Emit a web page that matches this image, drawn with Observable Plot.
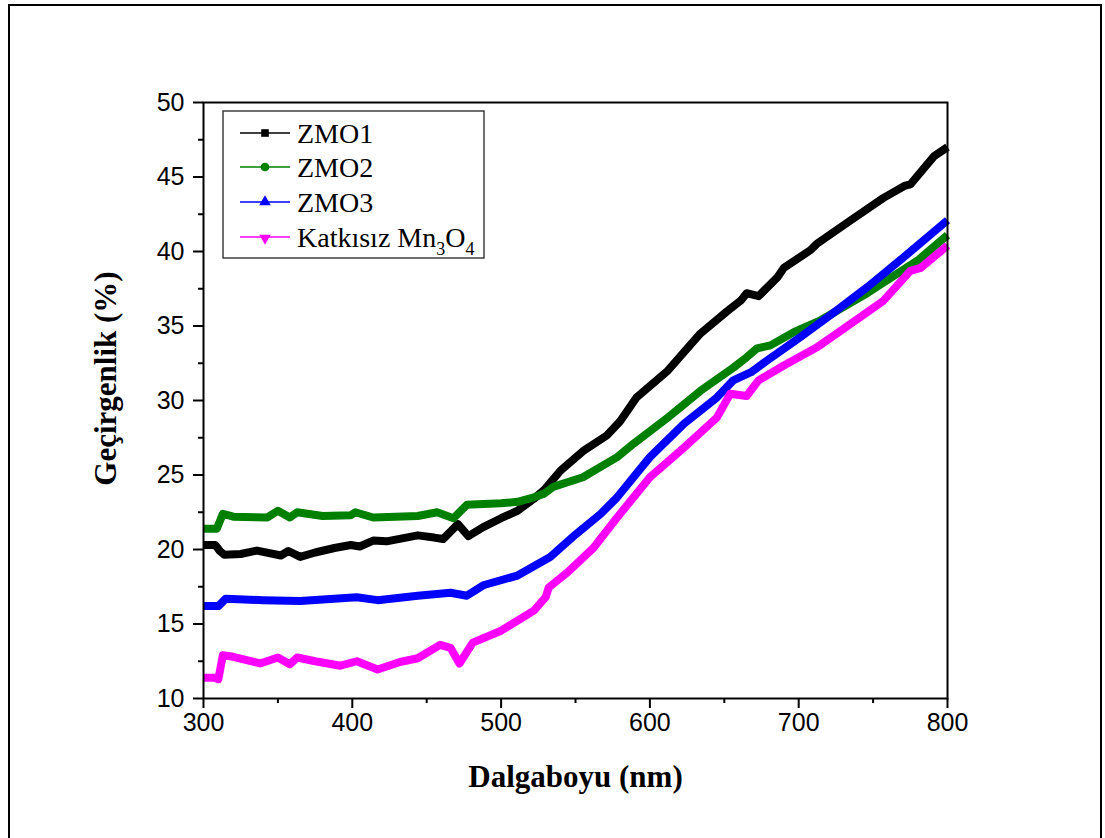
<!DOCTYPE html>
<html>
<head>
<meta charset="utf-8">
<script src="https://cdn.jsdelivr.net/npm/d3@7"></script>
<script src="https://cdn.jsdelivr.net/npm/@observablehq/plot@0.6"></script>
<style>
  html, body { margin: 0; padding: 0; background: #fff; overflow: hidden; }
  #wrap { position: relative; width: 1105px; height: 838px; }
  #border { position: absolute; left: 8px; top: 4px; width: 1094px; height: 900px; border: 2.5px solid #000; box-sizing: border-box; }
  #chart { position: absolute; left: 0; top: 0; }
  svg g.legend text { font-family: 'Liberation Serif', 'Times New Roman', serif !important; font-size: 28px !important; text-anchor: start !important; fill: #000; }
  svg g.legend tspan.sub { font-size: 18px !important; }
</style>
</head>
<body>
<div id="wrap"><div id="border"></div><div id="chart"></div></div>
<script>
// ---- data ----
const seriesNames = ["ZMO1", "ZMO2", "ZMO3", "Katkısız Mn3O4"];
const seriesColors = ["#000000", "#008000", "#0000ff", "#ff00ff"];

const wlZMO1 = [300,308,311,314,325,336,352,357,365,375,388,399,405,414,423,444,455,461,466,471,478,488,500,511,522,529,540,555,571,580,591,612,634,652,661,665,673,686,690,708,712,735,757,771,775,791,800];
const tZMO1  = [20.3,20.3,19.9,19.65,19.7,19.93,19.6,19.9,19.5,19.8,20.1,20.3,20.2,20.6,20.55,20.95,20.8,20.7,21.2,21.7,20.9,21.5,22.1,22.6,23.4,24.0,25.3,26.6,27.65,28.6,30.2,32.0,34.5,36.0,36.7,37.2,37.0,38.3,38.9,40.1,40.5,42.1,43.6,44.4,44.5,46.4,47.0];

const wlZMO2 = [300,309,313,320,343,350,358,363,380,399,402,414,444,457,468,477,488,500,511,522,529,535,555,578,589,612,634,656,665,672,681,697,715,746,780,800];
const tZMO2  = [21.4,21.4,22.4,22.2,22.15,22.6,22.15,22.5,22.25,22.3,22.5,22.15,22.25,22.5,22.1,23.0,23.05,23.1,23.2,23.5,23.75,24.2,24.85,26.2,27.1,28.85,30.65,32.2,32.9,33.5,33.7,34.6,35.4,37.2,39.4,41.1];

const wlZMO3 = [300,310,315,340,365,403,417,444,466,477,488,511,533,550,567,578,600,623,645,656,668,679,701,723,746,768,800];
const tZMO3  = [16.2,16.2,16.7,16.6,16.55,16.8,16.6,16.9,17.1,16.9,17.6,18.25,19.5,21.0,22.4,23.5,26.2,28.45,30.2,31.35,31.9,32.7,34.25,35.85,37.6,39.4,42.1];

const wlMn3O4 = [300,307,310,313,320,338,350,358,363,375,392,403,417,432,444,459,466,472,481,500,522,530,532,545,562,578,600,623,645,654,665,673,690,712,735,757,775,782,800];
const tMn3O4  = [11.4,11.4,11.3,12.9,12.8,12.35,12.75,12.3,12.75,12.5,12.2,12.5,11.95,12.45,12.7,13.6,13.4,12.35,13.75,14.55,15.9,16.8,17.45,18.5,20.1,22.15,24.85,26.85,28.85,30.45,30.3,31.35,32.35,33.55,35.15,36.7,38.7,38.9,40.4];

const xTicks = [300, 400, 500, 600, 700, 800];
const xMinorTicks = [350, 450, 550, 650, 750];
const yTicks = [10, 15, 20, 25, 30, 35, 40, 45, 50];
const yMinorTicks = [12.5, 17.5, 22.5, 27.5, 32.5, 37.5, 42.5, 47.5];
const xTitle = "Dalgaboyu (nm)";
const yTitle = "Geçirgenlik (%)";

// ---- build table ----
const wls = [wlZMO1, wlZMO2, wlZMO3, wlMn3O4];
const vals = [tZMO1, tZMO2, tZMO3, tMn3O4];
const rows = [];
seriesNames.forEach((s, i) => wls[i].forEach((w, j) => rows.push({series: s, wl: w, t: vals[i][j]})));

const serif = "'Liberation Serif', 'Times New Roman', serif";
const sans = "'Liberation Sans', Arial, sans-serif";

const plot = Plot.plot({
  width: 1105,
  height: 838,
  marginLeft: 203,
  marginRight: 158,
  marginTop: 102,
  marginBottom: 140,
  x: {domain: [300, 800]},
  y: {domain: [10, 50]},
  color: {domain: seriesNames, range: seriesColors},
  style: {fontFamily: sans, fontSize: "25px", color: "#000", background: "transparent", overflow: "visible"},
  marks: [
    Plot.line(rows, {x: "wl", y: "t", z: "series", stroke: "series", strokeWidth: 8, strokeLinejoin: "round", strokeLinecap: "butt"}),
    Plot.frame({stroke: "#000", strokeWidth: 2}),
    Plot.axisX({ticks: xTicks, tickSize: 10, tickPadding: 5, strokeWidth: 2, fontSize: 25, label: null, tickFormat: d => String(d)}),
    Plot.axisX({ticks: xMinorTicks, tickSize: 5, strokeWidth: 2, label: null, tickFormat: () => ""}),
    Plot.axisY({ticks: yTicks, tickSize: 10, tickPadding: 9, strokeWidth: 2, fontSize: 25, label: null, tickFormat: d => String(d)}),
    Plot.axisY({ticks: yMinorTicks, tickSize: 5, strokeWidth: 2, label: null, tickFormat: () => ""}),
    Plot.text([xTitle], {frameAnchor: "bottom", dy: 79, lineAnchor: "middle", textAnchor: "middle", text: d => d, fontSize: 31, fontWeight: "bold", fontFamily: serif}),
    Plot.text([yTitle], {frameAnchor: "left", dx: -97, dy: -22, rotate: -90, lineAnchor: "middle", textAnchor: "middle", text: d => d, fontSize: 31, fontWeight: "bold", fontFamily: serif})
  ]
});
document.getElementById("chart").appendChild(plot);

// ---- legend ----
const svg = d3.select(plot);
const lg = svg.append("g").attr("class", "legend");
lg.append("rect").attr("x", 223).attr("y", 111).attr("width", 261).attr("height", 147)
  .attr("fill", "#fff").attr("stroke", "#222").attr("stroke-width", 1.3);
const symbols = [d3.symbolSquare, d3.symbolCircle, d3.symbolTriangle, d3.symbolTriangle];
const rowY = [133, 167, 202, 237];
seriesNames.forEach((s, i) => {
  const g = lg.append("g").attr("transform", `translate(0,${rowY[i]})`);
  g.append("line").attr("x1", 240).attr("x2", 290).attr("y1", 0).attr("y2", 0)
    .attr("stroke", seriesColors[i]).attr("stroke-width", 1.3);
  g.append("path").attr("d", d3.symbol(symbols[i], i === 1 ? 60 : 58)())
    .attr("transform", `translate(265,${i === 3 ? 1 : 0})` + (i === 3 ? " rotate(180)" : ""))
    .attr("fill", seriesColors[i]);
  const t = g.append("text").attr("x", 297).attr("y", 0).attr("dy", "0.35em");
  if (i === 3) {
    t.append("tspan").text("Katkısız Mn");
    t.append("tspan").attr("class", "sub").attr("dy", 8).text("3");
    t.append("tspan").attr("dy", -8).text("O");
    t.append("tspan").attr("class", "sub").attr("dy", 8).text("4");
  } else {
    t.append("tspan").text(s);
  }
});
</script>
</body>
</html>
